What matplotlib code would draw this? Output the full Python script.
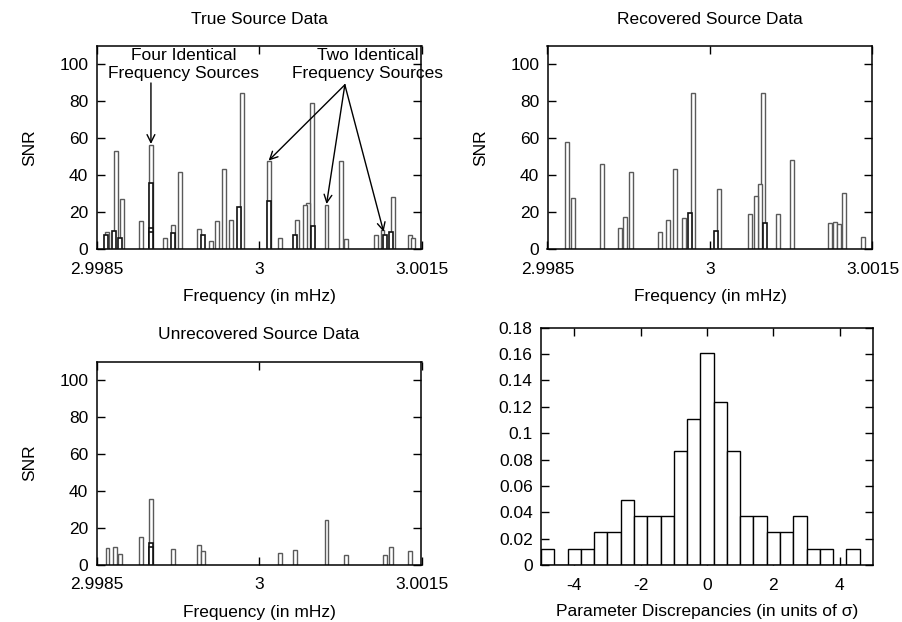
import matplotlib
matplotlib.use("Agg")
import matplotlib.pyplot as plt
import numpy as np

plt.rcParams['font.family'] = ['Liberation Sans', 'DejaVu Sans']
plt.rcParams['font.size'] = 12.5
plt.rcParams['axes.unicode_minus'] = False

# ---------------- data ----------------
# True source data: primary sources and overlapping (co-located) sources
true_freq = [2.998595, 2.998678, 2.998730, 2.998908, 2.999001, 2.999134, 2.999208,
             2.999269, 2.999444, 2.999555, 2.999610, 2.999675, 2.999743, 2.999842,
             3.000088, 3.000195, 3.000354, 3.000421, 3.000452, 3.000488, 3.000623,
             3.000755, 3.000806, 3.001081, 3.001140, 3.001234, 3.001395, 3.001425]
true_snr = [9.5, 53.3, 27.0, 15.3, 56.2, 6.3, 13.1,
            42.0, 11.0, 4.3, 15.5, 43.2, 15.8, 84.3,
            47.6, 6.3, 15.8, 24.0, 24.9, 79.3, 24.0,
            47.6, 5.4, 7.9, 10.5, 28.4, 7.6, 5.9]
true_freq_overlap = [2.998585, 2.998657, 2.998715, 2.999001, 2.999001, 2.999001,
                     2.999201, 2.999481, 2.999813, 3.000088, 3.000332, 3.000497,
                     3.001159, 3.001215]
true_snr_overlap = [7.6, 9.7, 5.9, 35.7, 11.3, 9.5,
                    8.8, 7.6, 22.9, 26.0, 8.0, 12.6,
                    7.7, 9.5]

rec_freq = [2.998682, 2.998738, 2.999006, 2.999172, 2.999215, 2.999273, 2.999541,
            2.999609, 2.999680, 2.999760, 2.999846, 3.000086, 3.000372, 3.000425,
            3.000462, 3.000492, 3.000628, 3.000760, 3.001111, 3.001151, 3.001188,
            3.001235, 3.001410]
rec_snr = [57.8, 27.7, 46.1, 11.5, 17.6, 41.8, 9.5,
           15.7, 43.2, 16.8, 84.3, 32.6, 19.3, 28.6,
           35.1, 84.3, 19.3, 48.1, 14.0, 14.7, 13.7,
           30.3, 6.5]
rec_freq_overlap = [2.999815, 3.000055, 3.000505]
rec_snr_overlap = [19.5, 9.9, 14.4]

unrec_freq = [2.998600, 2.998666, 2.998719, 2.998909, 2.999004, 2.999207, 2.999446,
              2.999484, 3.000195, 3.000332, 3.000623, 3.000806, 3.001164, 3.001217,
              3.001397]
unrec_snr = [9.2, 9.4, 5.6, 15.0, 35.3, 8.7, 10.5,
             7.3, 6.1, 7.8, 24.0, 5.0, 5.4, 9.4,
             7.3]
unrec_freq_overlap = [2.999004, 2.999004]
unrec_snr_overlap = [11.5, 9.7]

# Histogram of parameter discrepancies (bin centres, bin heights)
disc_centers = [-4.8, -4.4, -4.0, -3.6, -3.2, -2.8, -2.4, -2.0, -1.6, -1.2, -0.8, -0.4,
                0.0, 0.4, 0.8, 1.2, 1.6, 2.0, 2.4, 2.8, 3.2, 3.6, 4.0, 4.4]
disc_heights = [0.0123, 0.0, 0.0123, 0.0123, 0.0247, 0.0247, 0.0494, 0.0370, 0.0370,
                0.0370, 0.0864, 0.1111, 0.1605, 0.1235, 0.0864, 0.0370, 0.0370,
                0.0247, 0.0247, 0.0370, 0.0123, 0.0123, 0.0, 0.0123]

freq_ticks = [2.9985, 3.0, 3.0015]
freq_ticklabels = ["2.9985", "3", "3.0015"]
snr_ticks = [0, 20, 40, 60, 80, 100]
hist_xticks = [-4, -2, 0, 2, 4]
hist_yticks = [0, 0.02, 0.04, 0.06, 0.08, 0.1, 0.12, 0.14, 0.16, 0.18]
hist_yticklabels = ["0", "0.02", "0.04", "0.06", "0.08", "0.1", "0.12", "0.14",
                    "0.16", "0.18"]

# ---------------- figure ----------------
W, H = 903, 622
fig = plt.figure(figsize=(W / 100, H / 100), dpi=100)


def px_axes(x0, y0, x1, y1):
    return fig.add_axes([x0 / W, 1 - y1 / H, (x1 - x0) / W, (y1 - y0) / H])


ax_true = px_axes(96.7, 46, 421.5, 249.3)
ax_rec = px_axes(547.5, 46, 872.5, 249.3)
ax_unrec = px_axes(96.7, 361.5, 421.5, 564.7)
ax_hist = px_axes(541, 327.7, 873, 565)

BW = 0.000036


def draw_bars(ax, f, s, f2, s2):
    order = np.argsort(s)[::-1]
    ax.bar(np.array(f)[order], np.array(s)[order], width=BW, color='white',
           edgecolor='#5a5a5a', linewidth=1.0, zorder=2)
    order2 = np.argsort(s2)[::-1]
    ax.bar(np.array(f2)[order2], np.array(s2)[order2], width=BW, color='white',
           edgecolor='#111111', linewidth=1.2, zorder=3)


def style_freq_axes(ax, title):
    ax.set_xlim(2.9985, 3.0015)
    ax.set_ylim(0, 110)
    ax.set_xticks(freq_ticks)
    ax.set_xticklabels(freq_ticklabels)
    ax.set_yticks(snr_ticks)
    ax.set_ylabel("SNR", labelpad=16)
    ax.set_xlabel("Frequency (in mHz)", labelpad=9)
    ax.set_title(title, pad=16, fontsize=12.5)


for ax in (ax_true, ax_rec, ax_unrec, ax_hist):
    ax.tick_params(direction='in', length=6, width=1, top=True, right=True,
                   labelsize=12.5, colors='black')
    ax.tick_params(axis='x', pad=9)
    ax.tick_params(axis='y', pad=6)
    for sp in ax.spines.values():
        sp.set_linewidth(1.1)
        sp.set_color('black')

draw_bars(ax_true, true_freq, true_snr, true_freq_overlap, true_snr_overlap)
draw_bars(ax_rec, rec_freq, rec_snr, rec_freq_overlap, rec_snr_overlap)
draw_bars(ax_unrec, unrec_freq, unrec_snr, unrec_freq_overlap, unrec_snr_overlap)

style_freq_axes(ax_true, "True Source Data")
style_freq_axes(ax_rec, "Recovered Source Data")
style_freq_axes(ax_unrec, "Unrecovered Source Data")

# Annotations on the true-source panel
ax_true.text(2.999306, 100.0, "Four Identical\nFrequency Sources", ha='center',
             va='center', multialignment='center', linespacing=1.18, fontsize=12.5,
             zorder=5)
ax_true.annotate("", xy=(2.999001, 57.0), xytext=(2.999001, 90.0),
                 arrowprops=dict(arrowstyle='->', lw=1.0, color='black',
                                 mutation_scale=14, shrinkA=0, shrinkB=0))
ax_true.text(3.001004, 100.0, "Two Identical\nFrequency Sources", ha='center',
             va='center', multialignment='center', linespacing=1.18, fontsize=12.5,
             clip_on=False, zorder=5)
for tx, ty in [(3.000088, 48.0), (3.000623, 24.5), (3.00115, 9.5)]:
    ax_true.annotate("", xy=(tx, ty), xytext=(3.000792, 89.0),
                     arrowprops=dict(arrowstyle='->', lw=1.0, color='black',
                                     mutation_scale=14, shrinkA=0, shrinkB=0))

# Histogram panel
ax_hist.bar(disc_centers, disc_heights, width=0.4, color='white', edgecolor='black',
            linewidth=1.0, zorder=2)
ax_hist.set_xlim(-5, 5)
ax_hist.set_ylim(0, 0.18)
ax_hist.set_xticks(hist_xticks)
ax_hist.set_yticks(hist_yticks)
ax_hist.set_yticklabels(hist_yticklabels)
ax_hist.set_xlabel("Parameter Discrepancies (in units of σ)", labelpad=8)

fig.savefig("out.png", dpi=100)
